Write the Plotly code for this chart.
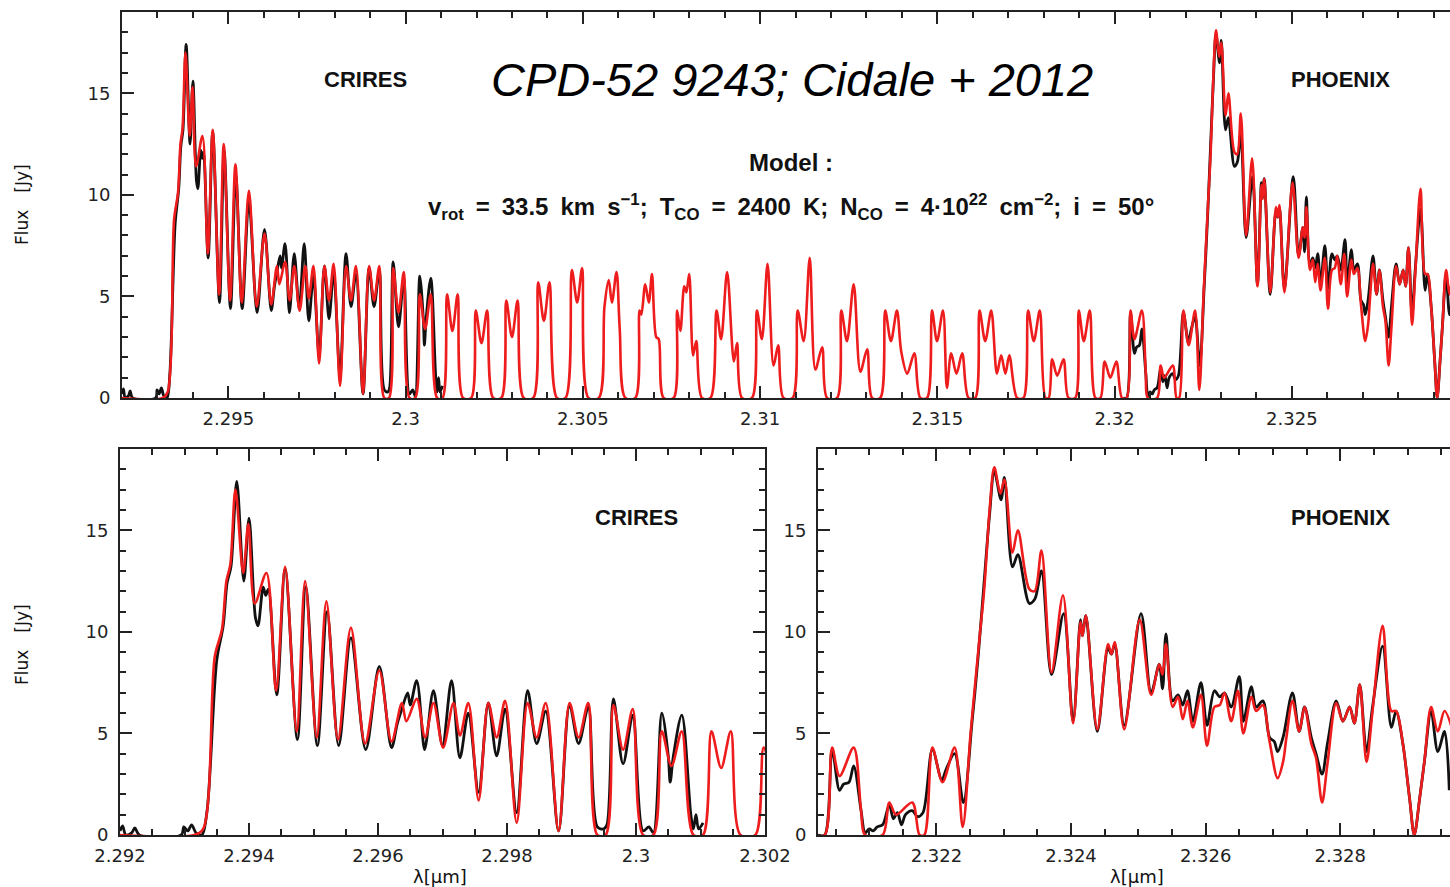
import plotly.graph_objects as go

# ---------------- data ----------------
model_wl = [
    2.29200, 2.29315, 2.29329, 2.29347, 2.29358, 2.29365, 2.29371, 2.29379, 2.29391, 2.29399,
    2.29409, 2.29427, 2.29442, 2.29456, 2.29474, 2.29487, 2.29505, 2.29520, 2.29538, 2.29558,
    2.29580, 2.29602, 2.29621, 2.29637, 2.29644, 2.29660, 2.29673, 2.29686, 2.29701, 2.29717,
    2.29727, 2.29740, 2.29756, 2.29771, 2.29784, 2.29797, 2.29815, 2.29832, 2.29846, 2.29860,
    2.29880, 2.29897, 2.29911, 2.29926, 2.29940, 2.29953, 2.29965, 2.29980, 2.29995, 2.30011,
    2.30027, 2.30040, 2.30055, 2.30071, 2.30089, 2.30104, 2.30117, 2.30132, 2.30147, 2.30162,
    2.30185, 2.30198, 2.30214, 2.30230, 2.30247, 2.30270, 2.30284, 2.30300, 2.30316, 2.30333,
    2.30360, 2.30374, 2.30390, 2.30406, 2.30427, 2.30451, 2.30469, 2.30484, 2.30498, 2.30516,
    2.30545, 2.30561, 2.30573, 2.30582, 2.30595, 2.30604, 2.30620, 2.30648, 2.30660, 2.30665,
    2.30676, 2.30686, 2.30695, 2.30707, 2.30714, 2.30728, 2.30756, 2.30766, 2.30775, 2.30786,
    2.30792, 2.30800, 2.30811, 2.30820, 2.30836, 2.30860, 2.30877, 2.30890, 2.30907, 2.30926,
    2.30935, 2.30949, 2.30977, 2.30991, 2.31005, 2.31021, 2.31038, 2.31051, 2.31066, 2.31092,
    2.31106, 2.31123, 2.31140, 2.31156, 2.31175, 2.31189, 2.31217, 2.31229, 2.31245, 2.31264,
    2.31283, 2.31302, 2.31316, 2.31339, 2.31353, 2.31369, 2.31386, 2.31398, 2.31415, 2.31435,
    2.31452, 2.31471, 2.31485, 2.31499, 2.31516, 2.31527, 2.31539, 2.31554, 2.31570, 2.31588,
    2.31607, 2.31619, 2.31635, 2.31652, 2.31668, 2.31680, 2.31692, 2.31703, 2.31725, 2.31743,
    2.31756, 2.31772, 2.31789, 2.31805, 2.31814, 2.31824, 2.31838, 2.31856, 2.31870, 2.31889,
    2.31899, 2.31913, 2.31930, 2.31946, 2.31960, 2.31972, 2.31988, 2.32005, 2.32021, 2.32034,
    2.32045, 2.32056, 2.32077, 2.32088, 2.32094, 2.32120, 2.32130, 2.32140, 2.32164, 2.32175,
    2.32182, 2.32194, 2.32209, 2.32227, 2.32239, 2.32251, 2.32264, 2.32271, 2.32279, 2.32286,
    2.32295, 2.32301, 2.32313, 2.32321, 2.32338, 2.32346, 2.32356, 2.32371, 2.32388, 2.32403,
    2.32414, 2.32417, 2.32422, 2.32439, 2.32455, 2.32460, 2.32465, 2.32479, 2.32502, 2.32519,
    2.32531, 2.32536, 2.32541, 2.32551, 2.32559, 2.32566, 2.32573, 2.32581, 2.32593, 2.32602,
    2.32613, 2.32621, 2.32628, 2.32638, 2.32648, 2.32656, 2.32668, 2.32675, 2.32685, 2.32695,
    2.32707, 2.32715, 2.32720, 2.32729, 2.32739, 2.32747, 2.32757, 2.32764, 2.32773, 2.32781,
    2.32794, 2.32804, 2.32814, 2.32821, 2.32829, 2.32839, 2.32848, 2.32863, 2.32876, 2.32883,
    2.32893, 2.32903, 2.32910, 2.32918, 2.32925, 2.32935, 2.32945, 2.32955, 2.32970,
]
model_flux = [
    0.0, 0.0, 0.3, 8.8, 10.1, 12.5, 13.3, 17.0, 12.9, 15.3,
    11.4, 12.9, 7.1, 13.2, 5.1, 12.5, 4.8, 11.5, 4.7, 10.2,
    4.5, 8.1, 4.6, 6.5, 5.6, 6.7, 4.8, 6.5, 4.3, 6.5,
    4.9, 6.5, 1.7, 6.5, 4.8, 6.6, 0.6, 6.5, 4.8, 6.5,
    0.2, 6.5, 4.8, 6.5, 0.0, 0.0, 6.4, 4.2, 6.2, 0.0,
    0.0, 5.1, 3.4, 5.1, 0.0, 0.0, 5.1, 3.3, 5.1, 0.0,
    0.0, 4.3, 2.7, 4.3, 0.0, 0.0, 4.8, 3.0, 4.8, 0.0,
    0.0, 5.7, 3.8, 5.7, 0.0, 0.0, 6.3, 4.7, 6.4, 0.0,
    0.0, 4.5, 5.8, 4.7, 6.2, 3.4, 0.0, 0.0, 4.3, 4.1,
    5.6, 4.7, 6.1, 3.0, 2.9, 0.0, 0.0, 4.3, 3.3, 5.5,
    5.2, 6.1, 2.1, 2.8, 0.0, 0.0, 4.3, 2.9, 6.2, 1.8,
    2.7, 0.0, 0.0, 4.3, 2.9, 6.6, 1.6, 2.6, 0.0, 0.0,
    4.3, 2.8, 6.9, 1.4, 2.5, 0.0, 0.0, 4.3, 2.8, 5.6,
    1.3, 2.4, 0.0, 0.0, 4.3, 2.8, 4.3, 2.3, 1.2, 2.2,
    0.0, 0.0, 4.3, 2.8, 4.3, 0.5, 2.2, 1.2, 2.2, 0.0,
    0.0, 4.3, 2.8, 4.3, 1.2, 2.1, 1.2, 2.1, 0.0, 0.0,
    4.3, 2.8, 4.3, 0.0, 0.0, 1.9, 1.1, 1.9, 0.0, 0.0,
    4.3, 2.8, 4.3, 0.0, 0.0, 1.8, 1.0, 1.8, 0.0, 0.0,
    4.3, 2.9, 4.3, 1.2, 0.0, 0.0, 1.6, 1.0, 1.6, 0.0,
    0.0, 4.3, 2.6, 4.3, 0.4, 5.1, 9.7, 12.1, 16.0, 18.1,
    16.8, 17.5, 13.9, 15.0, 12.1, 12.0, 14.0, 8.0, 11.8, 5.5,
    10.5, 9.8, 10.8, 5.2, 9.4, 8.9, 9.5, 5.2, 10.6, 6.9,
    8.4, 7.9, 9.4, 6.3, 6.8, 5.7, 6.6, 5.3, 6.9, 4.4,
    6.3, 6.4, 7.0, 5.6, 7.1, 5.0, 6.8, 6.1, 6.4, 4.6,
    2.8, 3.6, 4.8, 6.6, 5.1, 6.3, 4.5, 3.8, 1.6, 3.5,
    6.5, 5.6, 6.3, 5.5, 7.4, 3.6, 6.1, 10.3, 6.1, 6.1,
    4.5, 1.8, 0.0, 1.8, 3.6, 6.3, 5.1, 6.1, 4.8,
]

crires_wl = [
    2.29200, 2.29204, 2.29209, 2.29218, 2.29223, 2.29230, 2.29295, 2.29299, 2.29305, 2.29311,
    2.29318, 2.29327, 2.29335, 2.29350, 2.29360, 2.29366, 2.29372, 2.29381, 2.29392, 2.29400,
    2.29410, 2.29414, 2.29422, 2.29426, 2.29430, 2.29443, 2.29456, 2.29475, 2.29488, 2.29506,
    2.29521, 2.29539, 2.29558, 2.29581, 2.29602, 2.29621, 2.29630, 2.29637, 2.29646, 2.29650,
    2.29660, 2.29672, 2.29675, 2.29686, 2.29700, 2.29714, 2.29727, 2.29740, 2.29756, 2.29771,
    2.29784, 2.29797, 2.29815, 2.29832, 2.29846, 2.29860, 2.29880, 2.29897, 2.29911, 2.29926,
    2.29940, 2.29950, 2.29955, 2.29965, 2.29980, 2.29995, 2.30011, 2.30020, 2.30027, 2.30040,
    2.30050, 2.30053, 2.30058, 2.30071, 2.30085, 2.30089, 2.30093, 2.30097, 2.30104,
]
crires_flux = [
    0.2, 0.45, 0.0, 0.1, 0.35, 0.0, 0.0, 0.4, 0.2, 0.5,
    0.1, 0.0, 1.2, 8.6, 10.3, 12.4, 13.2, 17.4, 12.5, 15.6,
    10.7, 10.3, 12.2, 11.8, 12.1, 6.9, 13.1, 4.7, 12.2, 4.4,
    11.0, 4.4, 9.7, 4.2, 8.3, 4.3, 5.5, 6.2, 7.0, 6.4,
    7.6, 4.2, 4.6, 7.1, 4.4, 7.6, 3.8, 6.0, 2.1, 6.5,
    3.9, 6.2, 1.1, 7.1, 4.5, 6.1, 0.2, 6.4, 4.5, 6.3,
    0.4, 0.3, 0.5, 6.7, 3.5, 5.9, 0.2, 0.4, 0.1, 6.0,
    3.9, 2.6, 3.9, 5.9, 1.0, 0.3, 1.0, 0.3, 0.6,
]

phoenix_wl = [
    2.32024, 2.32034, 2.32045, 2.32056, 2.32062, 2.32070, 2.32077, 2.32088, 2.32094, 2.32100,
    2.32106, 2.32112, 2.32120, 2.32130, 2.32136, 2.32142, 2.32148, 2.32154, 2.32164, 2.32172,
    2.32180, 2.32194, 2.32208, 2.32214, 2.32227, 2.32240, 2.32253, 2.32262, 2.32270, 2.32279,
    2.32286, 2.32296, 2.32301, 2.32313, 2.32321, 2.32338, 2.32346, 2.32356, 2.32371, 2.32389,
    2.32403, 2.32414, 2.32417, 2.32422, 2.32439, 2.32455, 2.32460, 2.32465, 2.32479, 2.32504,
    2.32519, 2.32531, 2.32536, 2.32541, 2.32551, 2.32559, 2.32566, 2.32573, 2.32581, 2.32593,
    2.32602, 2.32613, 2.32621, 2.32628, 2.32638, 2.32650, 2.32656, 2.32668, 2.32675, 2.32685,
    2.32695, 2.32702, 2.32707, 2.32715, 2.32729, 2.32739, 2.32747, 2.32757, 2.32764, 2.32773,
    2.32781, 2.32794, 2.32804, 2.32814, 2.32821, 2.32829, 2.32839, 2.32848, 2.32863, 2.32876,
    2.32883, 2.32893, 2.32903, 2.32910, 2.32918, 2.32925, 2.32935, 2.32945, 2.32955, 2.32962,
]
phoenix_flux = [
    0.0, 0.0, 4.2, 2.2, 2.5, 2.6, 3.4, 1.2, 0.1, 0.3,
    0.2, 0.4, 0.5, 1.5, 0.8, 1.1, 0.5, 1.0, 1.2, 0.9,
    1.1, 4.2, 2.7, 3.2, 4.0, 1.6, 5.6, 8.8, 12.1, 15.8,
    17.9, 16.5, 17.6, 13.2, 13.8, 11.4, 11.6, 13.0, 7.9, 10.9,
    5.6, 10.6, 9.8, 10.8, 5.1, 9.2, 8.9, 9.4, 5.4, 10.9,
    7.0, 8.4, 7.2, 9.9, 6.6, 6.9, 6.4, 7.1, 5.6, 7.5,
    5.4, 7.1, 6.8, 7.0, 6.3, 7.8, 5.6, 7.3, 6.3, 6.6,
    4.8, 4.6, 4.1, 4.8, 7.0, 5.1, 6.3, 4.8, 4.0, 3.0,
    4.5, 6.6, 5.6, 6.3, 5.5, 7.4, 4.1, 6.3, 9.3, 5.3,
    6.1, 4.5, 1.8, 0.0, 1.8, 3.6, 6.1, 4.1, 5.1, 2.2,
]

y_tickvals = [0, 5, 10, 15]
y_ticktext = ["0", "5", "10", "15"]
top_tickvals = [2.295, 2.300, 2.305, 2.310, 2.315, 2.320, 2.325]
top_ticktext = ["2.295", "2.3", "2.305", "2.31", "2.315", "2.32", "2.325"]
bl_tickvals = [2.292, 2.294, 2.296, 2.298, 2.300, 2.302]
bl_ticktext = ["2.292", "2.294", "2.296", "2.298", "2.3", "2.302"]
br_tickvals = [2.322, 2.324, 2.326, 2.328]
br_ticktext = ["2.322", "2.324", "2.326", "2.328"]

# ---------------- figure ----------------
W, H = 1450, 887
BLACK = "#111111"
RED = "#ee1c1c"
AX = "#222222"
FONT = "Arial, Liberation Sans, Helvetica, sans-serif"
TFONT = "DejaVu Sans, Verdana, sans-serif"

fig = go.Figure()

panels = [("x", "y"), ("x2", "y2"), ("x3", "y3")]
for xa, ya in panels:
    for wl, fl in ((crires_wl, crires_flux), (phoenix_wl, phoenix_flux)):
        fig.add_trace(go.Scatter(x=wl, y=fl, mode="lines", xaxis=xa, yaxis=ya,
                                 line=dict(color=BLACK, width=2.8, shape="spline", smoothing=0.9),
                                 showlegend=False, hoverinfo="skip"))
    fig.add_trace(go.Scatter(x=model_wl, y=model_flux, mode="lines", xaxis=xa, yaxis=ya,
                             line=dict(color=RED, width=2.6, shape="spline", smoothing=0.9),
                             showlegend=False, hoverinfo="skip"))


def px_x(p):
    return p / W


def px_y(p):
    return 1 - p / H


tickfont = dict(family=TFONT, size=18, color=AX)


def xaxis(domain, rng, vals, text, minor_d, minor0, anchor):
    return dict(domain=domain, range=rng, anchor=anchor, automargin=False, tickmode="array",
                tickvals=vals, ticktext=text, ticks="inside", ticklen=12, tickwidth=2,
                tickcolor=AX, showline=True, linewidth=2, linecolor=AX, mirror="ticks",
                showgrid=False, zeroline=False, tickfont=tickfont, ticklabelstandoff=3,
                minor=dict(tickmode="linear", tick0=minor0, dtick=minor_d, ticks="inside",
                           ticklen=6, tickwidth=2, tickcolor=AX, showgrid=False))


def yaxis(domain, anchor, mirror):
    return dict(domain=domain, range=[0, 19], anchor=anchor, automargin=False, tickmode="array",
                tickvals=y_tickvals, ticktext=y_ticktext, ticks="inside", ticklen=12,
                tickwidth=2, tickcolor=AX, showline=True, linewidth=2,
                linecolor=AX, mirror=mirror, showgrid=False, zeroline=False,
                tickfont=tickfont, ticklabelstandoff=6,
                minor=dict(tickmode="linear", tick0=0, dtick=1, ticks="inside", ticklen=6,
                           tickwidth=2, tickcolor=AX, showgrid=False))


top_dom_y = [px_y(398), px_y(12)]
bot_dom_y = [px_y(835), px_y(449)]

fig.update_layout(
    width=W, height=H, margin=dict(l=0, r=0, t=0, b=0, pad=0), autosize=False,
    paper_bgcolor="white", plot_bgcolor="white", showlegend=False,
    xaxis=xaxis([px_x(122), 1.0], [2.292, 2.292 + (1450 - 122) / 35450.0],
                top_tickvals, top_ticktext, 0.001, 2.292, "y"),
    yaxis=yaxis(top_dom_y, "x", False),
    xaxis2=xaxis([px_x(120), px_x(765)], [2.292, 2.302],
                 bl_tickvals, bl_ticktext, 0.0005, 2.292, "y2"),
    yaxis2=yaxis(bot_dom_y, "x2", "ticks"),
    xaxis3=xaxis([px_x(818), 1.0], [2.32024, 2.32024 + (1450 - 818) / 67300.0],
                 br_tickvals, br_ticktext, 0.0005, 2.320, "y3"),
    yaxis3=yaxis(bot_dom_y, "x3", False),
)


def label(text, x, y, size, angle=0, color="#111111", family=FONT):
    fig.add_annotation(text=text, x=px_x(x), y=px_y(y), xref="paper", yref="paper",
                       showarrow=False, textangle=angle, xanchor="center", yanchor="middle",
                       font=dict(family=family, size=size, color=color))


SP = "\u2002"
label("<b>CRIRES</b>", 365, 80, 22)
label("<b>PHOENIX</b>", 1340, 80, 22)
label("<b>CRIRES</b>", 636, 517, 22)
label("<b>PHOENIX</b>", 1340, 517, 22)
label("<i>CPD-52 9243; Cidale + 2012</i>", 792, 80, 47, color="#000000")
label("<b>Model :</b>", 791, 162, 24)
param = (f"v<sub>rot</sub>{SP}={SP}33.5{SP}km{SP}s<sup>−1</sup>;{SP}T<sub>CO</sub>{SP}={SP}2400{SP}K;"
         f"{SP}N<sub>CO</sub>{SP}={SP}4·10<sup>22</sup>{SP}cm<sup>−2</sup>;{SP}i{SP}={SP}50°")
label(f"<b>{param}</b>", 791, 207, 24)
label(f"Flux{SP}{SP}[Jy]", 22, 205, 17, angle=-90, family=TFONT)
label(f"Flux{SP}{SP}[Jy]", 22, 645, 17, angle=-90, family=TFONT)
label("λ[μm]", 440, 876, 18, family=TFONT)
label("λ[μm]", 1137, 876, 18, family=TFONT)

fig.write_html("out.html")
